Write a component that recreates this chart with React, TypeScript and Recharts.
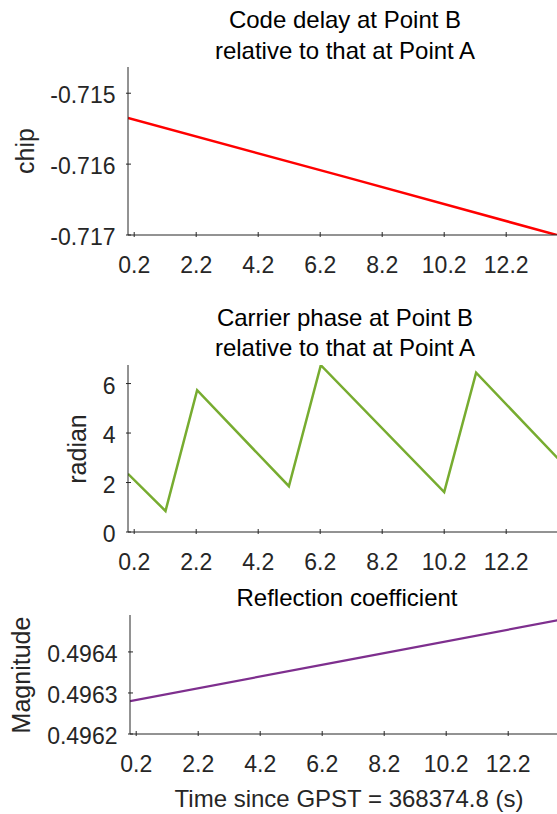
import { LineChart, Line, XAxis, YAxis } from 'recharts'

// time axis (s since GPST = 368374.8)
const timeTicks = [0.2, 2.2, 4.2, 6.2, 8.2, 10.2, 12.2]

// code delay at point B relative to point A (chip)
const codeTime = [0, 7, 14]
const codeDelay = [-0.71535, -0.71618, -0.71702]
const codeTicks = [-0.717, -0.716, -0.715]

// carrier phase at point B relative to point A (radian)
const phaseTime = [0, 1.21, 2.23, 5.19, 6.22, 10.2, 11.23, 14]
const carrierPhase = [2.35, 0.85, 5.73, 1.85, 6.74, 1.61, 6.44, 2.8]
const phaseTicks = [0, 2, 4, 6]

// reflection coefficient magnitude
const reflTime = [0, 7, 14]
const reflMagnitude = [0.49628, 0.49638, 0.49648]
const reflTicks = [0.4962, 0.4963, 0.4964]

const FONT = '"Liberation Sans", Arial, Helvetica, sans-serif'
const INK = '#262626'
const CHART_W = 620
const TICK_FONT = 23
const LABEL_FONT = 24

const toRows = (t: number[], v: number[]) => t.map((x, i) => ({ t: x, v: v[i] }))

const bottomTick = (props: any) => {
  const { x, y, payload } = props
  return (
    <g>
      <line x1={x} x2={x} y1={y} y2={y - 5} stroke={INK} strokeWidth={1} />
      <text x={x} y={y + 36} textAnchor="middle" fontSize={TICK_FONT} fontFamily={FONT} fill={INK}>
        {Number(payload.value).toFixed(1)}
      </text>
    </g>
  )
}

const topTick = (props: any) => {
  const { x, y } = props
  return <line x1={x} x2={x} y1={y} y2={y + 5} stroke={INK} strokeWidth={1} />
}

const leftTick = (fmt: (v: number) => string) => (props: any) => {
  const { x, y, payload } = props
  return (
    <g>
      <line x1={x} x2={x + 5} y1={y} y2={y} stroke={INK} strokeWidth={1} />
      <text x={x - 10.5} y={y + 10} textAnchor="end" fontSize={TICK_FONT} fontFamily={FONT} fill={INK}>
        {fmt(payload.value)}
      </text>
    </g>
  )
}

interface PanelProps {
  rows: { t: number; v: number }[]
  color: string
  strokeWidth: number
  yDomain: [number, number]
  yTicks: number[]
  yFmt: (v: number) => string
  top: number
  height: number
  plotTop: number
  plotBottom: number
  plotLeft: number
  plotRight: number
}

function Panel({ rows, color, strokeWidth, yDomain, yTicks, yFmt, top, height, plotTop, plotBottom, plotLeft, plotRight }: PanelProps) {
  return (
    <div style={{ position: 'absolute', left: 0, top, width: CHART_W, height }}>
      <LineChart
        width={CHART_W}
        height={height}
        data={rows}
        margin={{ top: plotTop - top, right: CHART_W - plotRight, bottom: 0, left: 0 }}
      >
        <XAxis
          xAxisId="b"
          dataKey="t"
          type="number"
          domain={[0, 14]}
          ticks={timeTicks}
          interval={0}
          height={top + height - plotBottom}
          tickSize={0}
          tickLine={false}
          axisLine={{ stroke: INK, strokeWidth: 1 }}
          tick={bottomTick}
          allowDataOverflow
        />
        <XAxis
          xAxisId="top"
          orientation="top"
          dataKey="t"
          type="number"
          domain={[0, 14]}
          ticks={timeTicks}
          interval={0}
          height={0}
          tickSize={0}
          tickLine={false}
          axisLine={{ stroke: INK, strokeWidth: 1 }}
          tick={topTick}
          allowDataOverflow
        />
        <YAxis
          yAxisId="l"
          type="number"
          domain={yDomain}
          ticks={yTicks}
          interval={0}
          width={plotLeft}
          tickSize={0}
          tickLine={false}
          axisLine={{ stroke: INK, strokeWidth: 1 }}
          tick={leftTick(yFmt)}
          allowDataOverflow
        />
        <Line
          xAxisId="b"
          yAxisId="l"
          dataKey="v"
          type="linear"
          stroke={color}
          strokeWidth={strokeWidth}
          dot={false}
          isAnimationActive={false}
        />
      </LineChart>
    </div>
  )
}

const textStyle = (left: number, top: number, size: number, color = INK): React.CSSProperties => ({
  position: 'absolute',
  left: left - 200,
  top,
  width: 400,
  textAlign: 'center',
  fontFamily: FONT,
  fontSize: size,
  lineHeight: `${size}px`,
  color,
  whiteSpace: 'nowrap',
})

const yLabelStyle = (cx: number, cy: number): React.CSSProperties => ({
  position: 'absolute',
  left: cx - 100,
  top: cy - LABEL_FONT / 2,
  width: 200,
  textAlign: 'center',
  fontFamily: FONT,
  fontSize: LABEL_FONT + 1,
  lineHeight: `${LABEL_FONT}px`,
  color: INK,
  transform: 'rotate(-90deg)',
  whiteSpace: 'nowrap',
})

export default function App() {
  return (
    <div style={{ position: 'absolute', left: 0, top: 0, width: 557, height: 814, overflow: 'hidden', background: '#fff' }}>
      <div style={textStyle(345, 8, LABEL_FONT, '#000')}>Code delay at Point B</div>
      <div style={textStyle(345, 39, LABEL_FONT, '#000')}>relative to that at Point A</div>
      <div style={yLabelStyle(25, 151)}>chip</div>
      <Panel
        rows={toRows(codeTime, codeDelay)}
        color="#ff0000"
        strokeWidth={2.5}
        yDomain={[-0.717, -0.71463]}
        yTicks={codeTicks}
        yFmt={(v) => v.toFixed(3)}
        top={0}
        height={280}
        plotTop={67}
        plotBottom={235}
        plotLeft={128}
        plotRight={562}
      />

      <div style={textStyle(345, 306, LABEL_FONT, '#000')}>Carrier phase at Point B</div>
      <div style={textStyle(345, 336, LABEL_FONT, '#000')}>relative to that at Point A</div>
      <div style={yLabelStyle(77, 449)}>radian</div>
      <Panel
        rows={toRows(phaseTime, carrierPhase)}
        color="#77ac30"
        strokeWidth={2.5}
        yDomain={[0, 6.75]}
        yTicks={phaseTicks}
        yFmt={(v) => String(v)}
        top={290}
        height={290}
        plotTop={365}
        plotBottom={532}
        plotLeft={128}
        plotRight={562}
      />

      <div style={textStyle(347, 586, LABEL_FONT, '#000')}>Reflection coefficient</div>
      <div style={yLabelStyle(20.5, 675)}>Magnitude</div>
      <Panel
        rows={toRows(reflTime, reflMagnitude)}
        color="#7e2f8e"
        strokeWidth={2.2}
        yDomain={[0.4962, 0.49649]}
        yTicks={reflTicks}
        yFmt={(v) => v.toFixed(4)}
        top={580}
        height={234}
        plotTop={615}
        plotBottom={734}
        plotLeft={130}
        plotRight={564}
      />
      <div style={textStyle(349, 787, LABEL_FONT)}>Time since GPST = 368374.8 (s)</div>
    </div>
  )
}
